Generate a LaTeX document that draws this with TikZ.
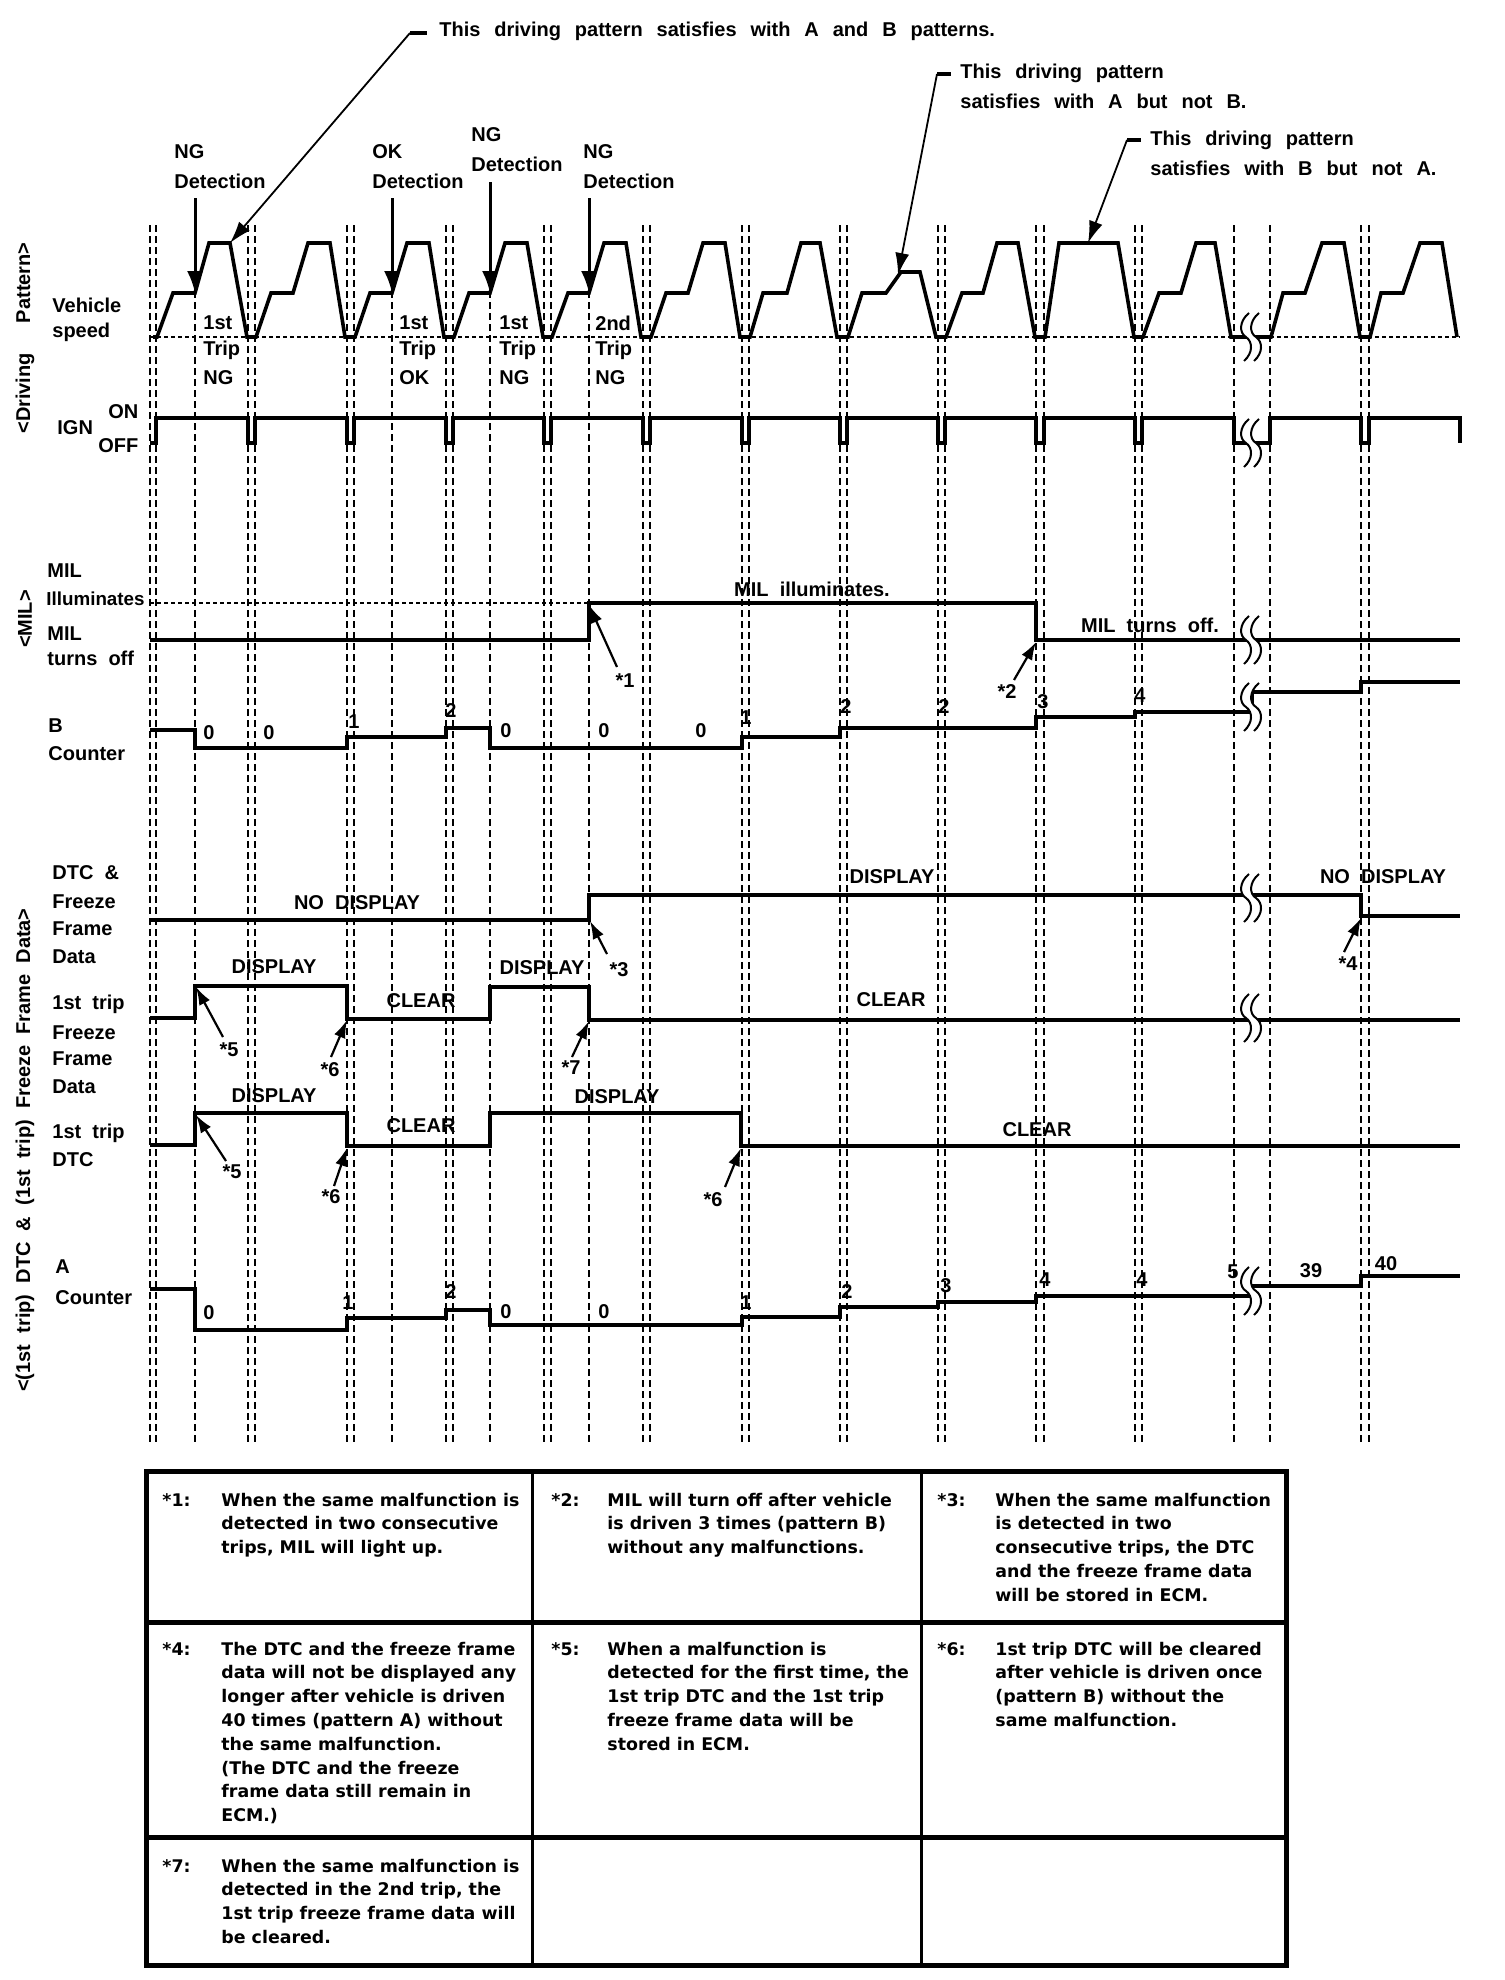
\documentclass[tikz,border=0pt]{standalone}
\usepackage{fontspec}
\setmainfont{Liberation Sans}[WordSpace=2.0]
\newfontfamily\annfont{Liberation Sans}[WordSpace=2.5]
\newfontfamily\tabfont{DejaVu Sans}
\usetikzlibrary{arrows.meta}
\newcommand\brkmark[2]{%
 \fill[white] ({#1+2},{#2-24}) .. controls ({#1-8},{#2-16}) and ({#1-8},{#2-4}) .. ({#1-1},{#2}) .. controls ({#1+6},{#2+5}) and ({#1+6},{#2+16}) .. ({#1-3},{#2+24}) -- ({#1+7},{#2+24}) .. controls ({#1+16},{#2+16}) and ({#1+16},{#2+5}) .. ({#1+9},{#2}) .. controls ({#1+2},{#2-4}) and ({#1+2},{#2-16}) .. ({#1+12},{#2-24}) -- cycle;
 \draw[line width=1pt] ({#1+2},{#2-24}) .. controls ({#1-8},{#2-16}) and ({#1-8},{#2-4}) .. ({#1-1},{#2}) .. controls ({#1+6},{#2+5}) and ({#1+6},{#2+16}) .. ({#1-3},{#2+24});
 \draw[line width=1pt] ({#1+12},{#2-24}) .. controls ({#1+2},{#2-16}) and ({#1+2},{#2-4}) .. ({#1+9},{#2}) .. controls ({#1+16},{#2+5}) and ({#1+16},{#2+16}) .. ({#1+7},{#2+24});
}
\begin{document}
\begin{tikzpicture}[x=0.5pt,y=-0.5pt,
  lbl/.style={font=\bfseries\fontsize{10}{12}\selectfont, inner sep=0pt, anchor=west},
  ann/.style={font=\annfont\bfseries\fontsize{10}{12}\selectfont, inner sep=0pt, anchor=west},
  ctr/.style={font=\bfseries\fontsize{10}{12}\selectfont, inner sep=0pt},
  sig/.style={line width=1.8pt, line join=miter},
  gridl/.style={line width=0.9pt, dash pattern=on 3.5pt off 2pt},
  dotl/.style={line width=0.8pt, dash pattern=on 2pt off 1.5pt},
  det/.style={line width=1.5pt, -{Latex[length=11pt,width=8pt]}},
  star/.style={line width=1.1pt, -{Latex[length=9pt,width=6pt]}},
  lead/.style={line width=0.9pt, -{Latex[length=11pt,width=7pt]}},
  tick/.style={line width=1.8pt},
  tab/.style={font=\tabfont\bfseries\fontsize{8.7}{11.9}\selectfont, inner sep=0pt, anchor=north west, align=left}
]
\useasboundingbox (0,0) rectangle (1504,1980);
\fill[white] (0,0) rectangle (1504,1980);

% vertical dashed grid
\foreach \x in {150,156,195,248,255,347,354,392,446,453,490,544,551,589,643,650,742,749,840,847,938,945,1036,1044,1135,1142,1234,1270,1361,1369}
  \draw[gridl] (\x,225) -- (\x,1443);

% top annotations
\node[ann] (ann1) at (439,31) {This driving pattern satisfies with A and B patterns.};
\node[ann] (ann2a) at (960,73) {This driving pattern};
\node[ann] (ann2b) at (960,101) {satisfies with A but not B.};
\node[ann] (ann3a) at (1150,140) {This driving pattern};
\node[ann] (ann3b) at (1150,168) {satisfies with B but not A.};
\coordinate (l1s) at (410,33); \coordinate (l1e) at (427,33); \coordinate (l1t) at (230,243);
\coordinate (l2s) at (937,74); \coordinate (l2e) at (951,74); \coordinate (l2t) at (898,275);
\coordinate (l3s) at (1127,140); \coordinate (l3e) at (1141,140); \coordinate (l3t) at (1088,243);
\draw[tick] (l1s) -- (l1e); \draw[lead] (l1s) -- (l1t);
\draw[tick] (l2s) -- (l2e); \draw[lead] (l2s) -- (l2t);
\draw[tick] (l3s) -- (l3e); \draw[lead] (l3s) -- (l3t);

% detection labels and arrows
\node[lbl] (ng1a) at (174,152) {NG};
\node[lbl] (ng1b) at (174,181) {Detection};
\node[lbl] (ok2a) at (372,152) {OK};
\node[lbl] (ok2b) at (372,181) {Detection};
\node[lbl] (ng3a) at (471,135) {NG};
\node[lbl] (ng3b) at (471,164) {Detection};
\node[lbl] (ng4a) at (583,152) {NG};
\node[lbl] (ng4b) at (583,181) {Detection};
\coordinate (d1a) at (195,198); \coordinate (d1b) at (195,293);
\coordinate (d2a) at (392,198); \coordinate (d2b) at (392,293);
\coordinate (d3a) at (490,182); \coordinate (d3b) at (490,293);
\coordinate (d4a) at (589,198); \coordinate (d4b) at (589,293);
\draw[det] (d1a) -- (d1b);
\draw[det] (d2a) -- (d2b);
\draw[det] (d3a) -- (d3b);
\draw[det] (d4a) -- (d4b);

% side labels
\node[ctr, rotate=90] (sideDP) at (25,338) {<Driving\hspace{1.5em}Pattern>};
\node[ctr, rotate=90] (sideMIL) at (25,619) {<MIL>};
\node[ctr, rotate=90] (sideDTC) at (25,1150) {<(1st trip) DTC \& (1st trip) Freeze Frame Data>};

% row labels
\node[lbl] (veh) at (52,305) {Vehicle};
\node[lbl] (spd) at (52,332) {speed};
\node[lbl] (ign) at (57,428) {IGN};
\node[lbl] (on) at (108,412) {ON};
\node[lbl] (off) at (98,446) {OFF};
\node[lbl] (mil1) at (47,571) {MIL};
\node[lbl, font=\bfseries\fontsize{9.4}{12}\selectfont] (mil2) at (46,599) {Illuminates};
\node[lbl] (mil3) at (47,634) {MIL};
\node[lbl] (mil4) at (47,658) {turns off};
\node[lbl] (bc1) at (48,726) {B};
\node[lbl] (bc2) at (48,754) {Counter};
\node[lbl] (dtc1) at (52,873) {DTC \&};
\node[lbl] (dtc2) at (52,902) {Freeze};
\node[lbl] (dtc3) at (52,929) {Frame};
\node[lbl] (dtc4) at (52,957) {Data};
\node[lbl] (ff1) at (52,1004) {1st trip};
\node[lbl] (ff2) at (52,1033) {Freeze};
\node[lbl] (ff3) at (52,1059) {Frame};
\node[lbl] (ff4) at (52,1087) {Data};
\node[lbl] (fd1) at (52,1133) {1st trip};
\node[lbl] (fd2) at (52,1160) {DTC};
\node[lbl] (ac1) at (55,1267) {A};
\node[lbl] (ac2) at (55,1298) {Counter};

% trip labels
\node[lbl] (tr1a) at (203,323) {1st};
\node[lbl] (tr1b) at (203,350) {Trip};
\node[lbl] (tr1c) at (203,378) {NG};
\node[lbl] (tr2a) at (399,323) {1st};
\node[lbl] (tr2b) at (399,350) {Trip};
\node[lbl] (tr2c) at (399,378) {OK};
\node[lbl] (tr3a) at (499,323) {1st};
\node[lbl] (tr3b) at (499,350) {Trip};
\node[lbl] (tr3c) at (499,378) {NG};
\node[lbl] (tr4a) at (595,323) {2nd};
\node[lbl] (tr4b) at (595,350) {Trip};
\node[lbl] (tr4c) at (595,378) {NG};

% vehicle speed
\draw[dotl] (150,337) -- (1460,337);
\draw[sig] (153,337) -- (157,337) -- (173,293) -- (195,293) -- (209,243) -- (230,243) -- (247,337) -- (256,337) -- (271,293) -- (293,293) -- (308,243) -- (330,243) -- (345,337) -- (355,337) -- (370,293) -- (392,293) -- (407,243) -- (429,243) -- (444,337) -- (454,337) -- (469,293) -- (490,293) -- (505,243) -- (527,243) -- (543,337) -- (552,337) -- (568,293) -- (589,293) -- (604,243) -- (626,243) -- (641,337) -- (651,337) -- (666,293) -- (688,293) -- (703,243) -- (725,243) -- (740,337) -- (750,337) -- (763,293) -- (787,293) -- (801,243) -- (820,243) -- (837,337) -- (848,337) -- (862,293) -- (886,293) -- (901,272) -- (920,272) -- (936,337) -- (946,337) -- (962,293) -- (983,293) -- (997,243) -- (1018,243) -- (1035,337) -- (1045,337) -- (1059,243) -- (1118,243) -- (1134,337) -- (1143,337) -- (1159,293) -- (1181,293) -- (1196,243) -- (1215,243) -- (1231,337) -- (1271,337) -- (1283,293) -- (1305,293) -- (1322,243) -- (1344,243) -- (1360,337) -- (1370,337) -- (1381,293) -- (1403,293) -- (1420,243) -- (1442,243) -- (1457,337);

% IGN
\draw[sig] (150,443) -- (156,443) -- (156,418)
  -- (248,418) -- (248,443) -- (255,443) -- (255,418)
  -- (347,418) -- (347,443) -- (354,443) -- (354,418)
  -- (446,418) -- (446,443) -- (453,443) -- (453,418)
  -- (544,418) -- (544,443) -- (551,443) -- (551,418)
  -- (643,418) -- (643,443) -- (650,443) -- (650,418)
  -- (742,418) -- (742,443) -- (749,443) -- (749,418)
  -- (840,418) -- (840,443) -- (847,443) -- (847,418)
  -- (938,418) -- (938,443) -- (945,443) -- (945,418)
  -- (1036,418) -- (1036,443) -- (1044,443) -- (1044,418)
  -- (1135,418) -- (1135,443) -- (1142,443) -- (1142,418)
  -- (1234,418) -- (1234,443) -- (1270,443) -- (1270,418)
  -- (1361,418) -- (1361,443) -- (1369,443) -- (1369,418)
  -- (1460,418) -- (1460,443);

% MIL
\draw[dotl] (150,603) -- (589,603);
\draw[sig] (150,640) -- (589,640) -- (589,603) -- (1036,603) -- (1036,640) -- (1460,640);
\node[ctr] (milon) at (812,589) {MIL illuminates.};
\node[ctr] (miloff) at (1150,625) {MIL turns off.};

% B counter
\draw[sig] (150,730) -- (195,730) -- (195,748) -- (347,748) -- (347,737) -- (446,737) -- (446,728) -- (490,728) -- (490,748) -- (742,748) -- (742,737) -- (840,737) -- (840,728) -- (1036,728) -- (1036,717) -- (1135,717) -- (1135,712) -- (1252,712) -- (1252,692) -- (1361,692) -- (1361,682) -- (1460,682);
\node[ctr] (b1) at (209,733) {0};
\node[ctr] (b2) at (269,733) {0};
\node[ctr] (b3) at (354,722) {1};
\node[ctr] (b4) at (451,711) {2};
\node[ctr] (b5) at (506,731) {0};
\node[ctr] (b6) at (604,731) {0};
\node[ctr] (b7) at (701,731) {0};
\node[ctr] (b8) at (746,718) {1};
\node[ctr] (b9) at (846,707) {2};
\node[ctr] (b10) at (944,707) {2};
\node[ctr] (b11) at (1043,702) {3};
\node[ctr] (b12) at (1140,696) {4};

% DTC & freeze frame data
\draw[sig] (150,920) -- (589,920) -- (589,895) -- (1361,895) -- (1361,916) -- (1460,916);
\node[ctr] (nd1) at (357,903) {NO DISPLAY};
\node[ctr] (dp1) at (892,877) {DISPLAY};
\node[ctr] (nd2) at (1383,877) {NO DISPLAY};

% 1st trip freeze frame data
\draw[sig] (150,1018) -- (195,1018) -- (195,986) -- (347,986) -- (347,1019) -- (490,1019) -- (490,987) -- (589,987) -- (589,1020) -- (1460,1020);
\node[ctr] (fdp1) at (274,967) {DISPLAY};
\node[ctr] (fcl1) at (421,1001) {CLEAR};
\node[ctr] (fdp2) at (542,968) {DISPLAY};
\node[ctr] (fcl2) at (891,1000) {CLEAR};

% 1st trip DTC
\draw[sig] (150,1145) -- (195,1145) -- (195,1113) -- (347,1113) -- (347,1146) -- (490,1146) -- (490,1113) -- (741,1113) -- (741,1146) -- (1460,1146);
\node[ctr] (ddp1) at (274,1096) {DISPLAY};
\node[ctr] (dcl1) at (421,1126) {CLEAR};
\node[ctr] (ddp2) at (617,1097) {DISPLAY};
\node[ctr] (dcl2) at (1037,1130) {CLEAR};

% A counter
\draw[sig] (150,1289) -- (195,1289) -- (195,1330) -- (347,1330) -- (347,1318) -- (446,1318) -- (446,1310) -- (490,1310) -- (490,1325) -- (742,1325) -- (742,1317) -- (840,1317) -- (840,1307) -- (938,1307) -- (938,1302) -- (1036,1302) -- (1036,1296) -- (1252,1296) -- (1252,1286) -- (1361,1286) -- (1361,1276) -- (1460,1276);
\node[ctr] (a1) at (209,1313) {0};
\node[ctr] (a2) at (348,1303) {1};
\node[ctr] (a3) at (451,1292) {2};
\node[ctr] (a4) at (506,1312) {0};
\node[ctr] (a5) at (604,1312) {0};
\node[ctr] (a6) at (746,1303) {1};
\node[ctr] (a7) at (847,1292) {2};
\node[ctr] (a8) at (946,1286) {3};
\node[ctr] (a9) at (1045,1280) {4};
\node[ctr] (a10) at (1142,1280) {4};
\node[ctr] (a11) at (1233,1272) {5};
\node[ctr] (a12) at (1311,1271) {39};
\node[ctr] (a13) at (1386,1264) {40};

% break marks
\brkmark{1247}{337}
\brkmark{1247}{443}
\brkmark{1247}{640}
\brkmark{1247}{707}
\brkmark{1247}{898}
\brkmark{1247}{1018}
\brkmark{1247}{1291}

% asterisk callouts
\node[ctr] (n1) at (625,681) {*1};
\node[ctr] (n2) at (1007,692) {*2};
\node[ctr] (n3) at (619,970) {*3};
\node[ctr] (n4) at (1348,964) {*4};
\node[ctr] (n5a) at (229,1050) {*5};
\node[ctr] (n6a) at (330,1070) {*6};
\node[ctr] (n7) at (571,1068) {*7};
\node[ctr] (n5b) at (232,1172) {*5};
\node[ctr] (n6b) at (331,1197) {*6};
\node[ctr] (n6c) at (713,1200) {*6};
\coordinate (c1a) at (617,667); \coordinate (c1b) at (589,605);
\coordinate (c2a) at (1014,680); \coordinate (c2b) at (1036,642);
\coordinate (c3a) at (607,954); \coordinate (c3b) at (590,921);
\coordinate (c4a) at (1344,952); \coordinate (c4b) at (1361,918);
\coordinate (c5a) at (223,1037); \coordinate (c5b) at (196,987);
\coordinate (c6a) at (331,1057); \coordinate (c6b) at (347,1020);
\coordinate (c7a) at (572,1057); \coordinate (c7b) at (589,1021);
\coordinate (c8a) at (226,1161); \coordinate (c8b) at (196,1115);
\coordinate (c9a) at (334,1186); \coordinate (c9b) at (347,1148);
\coordinate (c10a) at (725,1187); \coordinate (c10b) at (741,1148);
\draw[star] (c1a) -- (c1b);
\draw[star] (c2a) -- (c2b);
\draw[star] (c3a) -- (c3b);
\draw[star] (c4a) -- (c4b);
\draw[star] (c5a) -- (c5b);
\draw[star] (c6a) -- (c6b);
\draw[star] (c7a) -- (c7b);
\draw[star] (c8a) -- (c8b);
\draw[star] (c9a) -- (c9b);
\draw[star] (c10a) -- (c10b);

% notes table
\draw[line width=1.5pt] (532,1471) -- (532,1965);
\draw[line width=1.5pt] (921,1471) -- (921,1965);
\draw[line width=2.5pt] (146,1622) -- (1286,1622);
\draw[line width=2.5pt] (146,1837) -- (1286,1837);
\draw[line width=2.5pt] (146,1471) rectangle (1286,1965);

\node[tab] (k1) at (162,1489) {\strut *1:};
\node[tab] (t1) at (221,1489) {\strut When the same malfunction is\\detected in two consecutive\\trips, MIL will light up.};
\node[tab] (k2) at (551,1489) {\strut *2:};
\node[tab] (t2) at (607,1489) {\strut MIL will turn off after vehicle\\is driven 3 times (pattern B)\\without any malfunctions.};
\node[tab] (k3) at (937,1489) {\strut *3:};
\node[tab] (t3) at (995,1489) {\strut When the same malfunction\\is detected in two\\consecutive trips, the DTC\\and the freeze frame data\\will be stored in ECM.};
\node[tab] (k4) at (162,1638) {\strut *4:};
\node[tab] (t4) at (221,1638) {\strut The DTC and the freeze frame\\data will not be displayed any\\longer after vehicle is driven\\40 times (pattern A) without\\the same malfunction.\\(The DTC and the freeze\\frame data still remain in\\ECM.)};
\node[tab] (k5) at (551,1638) {\strut *5:};
\node[tab] (t5) at (607,1638) {\strut When a malfunction is\\detected for the first time, the\\1st trip DTC and the 1st trip\\freeze frame data will be\\stored in ECM.};
\node[tab] (k6) at (937,1638) {\strut *6:};
\node[tab] (t6) at (995,1638) {\strut 1st trip DTC will be cleared\\after vehicle is driven once\\(pattern B) without the\\same malfunction.};
\node[tab] (k7) at (162,1855) {\strut *7:};
\node[tab] (t7) at (221,1855) {\strut When the same malfunction is\\detected in the 2nd trip, the\\1st trip freeze frame data will\\be cleared.};
\end{tikzpicture}
\end{document}
